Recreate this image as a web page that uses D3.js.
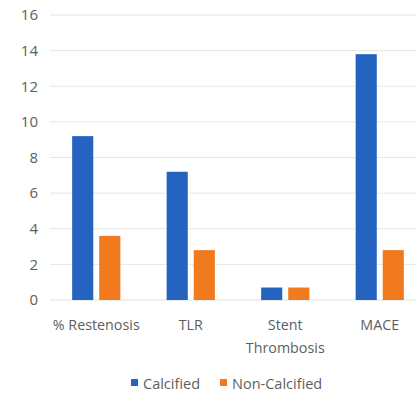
<!DOCTYPE html>
<html>
<head>
<meta charset="utf-8">
<script src="https://cdn.jsdelivr.net/npm/d3@7"></script>
<style>
  html, body { margin: 0; padding: 0; background: #fff; }
  svg { display: block; }
</style>
</head>
<body>
<svg id="chart" width="416" height="397"></svg>
<script>
// Outcome rates by lesion type
const categories = [["% Restenosis"], ["TLR"], ["Stent", "Thrombosis"], ["MACE"]];
const seriesNames = ["Calcified", "Non-Calcified"];
const calcified = [9.2, 7.2, 0.7, 13.8];
const nonCalcified = [3.6, 2.8, 0.7, 2.8];
const yTicks = [0, 2, 4, 6, 8, 10, 12, 14, 16];
const colors = ["#2563c0", "#f27a1e"];

const svg = d3.select("#chart");
const font = "'Open Sans', 'Liberation Sans', sans-serif";
const textColor = "#5e5e5e";

const x = d3.scaleBand()
  .domain(categories.map((d, i) => i))
  .range([49, 427])
  .paddingInner(0.49)
  .paddingOuter(0.245);

const xs = d3.scaleBand()
  .domain(seriesNames)
  .range([0, x.bandwidth()])
  .paddingInner(0.22);

const y = d3.scaleLinear().domain([0, 16]).range([300, 15]);

// horizontal gridlines
svg.append("g")
  .selectAll("line")
  .data(yTicks.filter(t => t > 0))
  .join("line")
  .attr("x1", 50).attr("x2", 416)
  .attr("y1", d => y(d)).attr("y2", d => y(d))
  .attr("stroke", "#e6e6e6").attr("stroke-width", 1);

// baseline
svg.append("line")
  .attr("x1", 50).attr("x2", 416)
  .attr("y1", y(0)).attr("y2", y(0))
  .attr("stroke", "#e0e0e0");

// y axis labels
const yAxis = d3.axisLeft(y).tickValues(yTicks).tickSize(0).tickPadding(0);
const gy = svg.append("g").attr("transform", "translate(38,0)").call(yAxis);
gy.select(".domain").remove();
gy.selectAll("text")
  .attr("font-family", font).attr("font-size", 15).attr("fill", textColor);

// bars
const series = [calcified, nonCalcified];
series.forEach((vals, si) => {
  svg.append("g")
    .selectAll("rect")
    .data(vals)
    .join("rect")
    .attr("x", (d, i) => x(i) + xs(seriesNames[si]))
    .attr("width", xs.bandwidth())
    .attr("y", d => y(d))
    .attr("height", d => y(0) - y(d))
    .attr("fill", colors[si]);
});

// category labels
const cat = svg.append("g");
categories.forEach((lines, i) => {
  const t = cat.append("text")
    .attr("x", x(i) + x.bandwidth() / 2)
    .attr("y", 330)
    .attr("text-anchor", "middle")
    .attr("font-family", font).attr("font-size", 14.3).attr("fill", textColor);
  lines.forEach((ln, k) => {
    t.append("tspan")
      .attr("x", x(i) + x.bandwidth() / 2)
      .attr("dy", k === 0 ? 0 : 23)
      .text(ln);
  });
});

// legend
const legend = svg.append("g").attr("transform", "translate(0,383)");
const legendX = [131, 220];
seriesNames.forEach((name, i) => {
  legend.append("rect")
    .attr("x", legendX[i]).attr("y", -4)
    .attr("width", 7).attr("height", 7)
    .attr("fill", colors[i]);
  legend.append("text")
    .attr("x", legendX[i] + 12).attr("y", 5.5)
    .attr("font-family", font).attr("font-size", 14.5).attr("fill", textColor)
    .text(name);
});
</script>
</body>
</html>
